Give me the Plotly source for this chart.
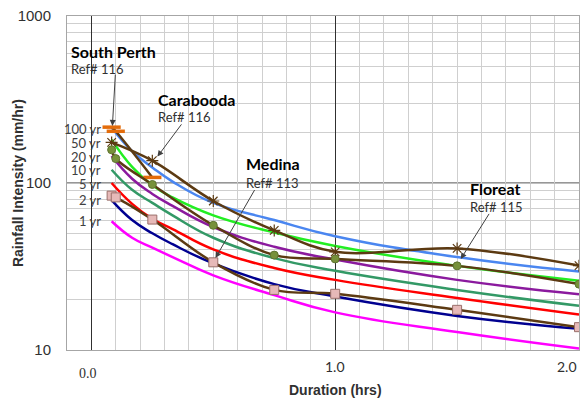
import math
import plotly.graph_objects as go

# ---------------- data ----------------
durations = [0.083, 0.167, 0.25, 0.333, 0.5, 0.75, 1.0, 1.5, 2.0]
ifd_1yr = [59, 47, 41, 36, 28, 21.3, 16.8, 12.8, 10.2]
ifd_2yr = [79, 60, 50, 43, 33, 24.8, 20.9, 16.0, 13.4]
ifd_5yr = [100, 75, 61, 53, 40, 31, 26.3, 20.5, 16.3]
ifd_10yr = [120, 91, 76, 64, 47, 35.5, 29.8, 22.9, 18.4]
ifd_20yr = [145, 106, 86, 73, 54.5, 41.5, 34.8, 26.3, 21.6]
ifd_50yr = [182, 125, 97, 82, 64, 50.5, 42, 31.9, 26]
ifd_100yr = [215, 155, 124, 102, 76, 60, 48, 36, 29.5]

ari_labels = ["1 yr", "2 yr", "5 yr", "10 yr", "20 yr", "50 yr", "100 yr"]
ari_colors = ["#FF00FF", "#000090", "#FF0000", "#339966", "#8B1A9E", "#22EE22", "#4A86F0"]
ari_label_y = [59.3, 78.7, 99, 119, 144, 174, 211]

south_perth_x = [0.083, 0.1, 0.25]
south_perth_y = [216, 204, 108]
carabooda_x = [0.083, 0.25, 0.5, 0.75, 1.0, 1.5, 2.0]
carabooda_y = [175, 136, 78, 52, 38.7, 40.6, 32]
floreat_x = [0.083, 0.1, 0.25, 0.5, 0.75, 1.0, 1.5, 2.0]
floreat_y = [158, 140, 98, 55.8, 37, 35.1, 31.9, 24.8]
medina_x = [0.083, 0.1, 0.25, 0.5, 0.75, 1.0, 1.5, 2.0]
medina_y = [84, 82, 60.4, 33.5, 22.9, 21.7, 17.4, 13.7]

site_names = ["South Perth", "Carabooda", "Medina", "Floreat"]
site_refs = ["Ref# 116", "Ref# 116", "Ref# 113", "Ref# 115"]

x_tick_labels = ["0.0", "1.0", "2.0"]

BROWN = "#5C3A12"
SANS = "Lato, 'Liberation Sans', Arial, sans-serif"
ARIAL = "'Liberation Sans', Arial, sans-serif"

fig = go.Figure()

ifd_series = [ifd_1yr, ifd_2yr, ifd_5yr, ifd_10yr, ifd_20yr, ifd_50yr, ifd_100yr]
for name, vals, col in zip(ari_labels, ifd_series, ari_colors):
    fig.add_trace(go.Scatter(x=durations, y=vals, mode="lines", name=name,
                             line=dict(color=col, width=2.5, shape="spline",
                                       smoothing=1.3)))

fig.add_trace(go.Scatter(x=south_perth_x, y=south_perth_y, mode="lines+markers",
                         name="South Perth",
                         line=dict(color=BROWN, width=2.5, shape="spline"),
                         marker=dict(symbol="line-ew", size=13,
                                     line=dict(color="#E46C0A", width=3.5))))
fig.add_trace(go.Scatter(x=carabooda_x, y=carabooda_y, mode="lines+markers",
                         name="Carabooda",
                         line=dict(color=BROWN, width=2.5, shape="spline"),
                         marker=dict(symbol="asterisk-open", size=10,
                                     line=dict(color="#A88A70", width=1.2))))
fig.add_trace(go.Scatter(x=floreat_x, y=floreat_y, mode="lines+markers",
                         name="Floreat",
                         line=dict(color=BROWN, width=2.5, shape="spline"),
                         marker=dict(symbol="circle", size=8, color="#77913A",
                                     line=dict(color="#5E7330", width=1))))
fig.add_trace(go.Scatter(x=medina_x, y=medina_y, mode="lines+markers",
                         name="Medina",
                         line=dict(color=BROWN, width=2.5, shape="spline"),
                         marker=dict(symbol="square", size=9, color="#E6B9B8",
                                     line=dict(color="#9A6F6A", width=1))))

ann = []
# ARI labels at left
for lab, yv in zip(ari_labels, ari_label_y):
    ann.append(dict(x=0.045, y=math.log10(yv), xref="x", yref="y", text=lab,
                    showarrow=False, xanchor="right", yanchor="middle",
                    borderpad=0,
                    font=dict(family=SANS, size=13, color="#404040")))

# site labels: (x, y_title, y_ref) positions
site_pos = [(-0.09, 2.789, 2.682), (0.267, 2.503, 2.396),
            (0.624, 2.116, 2.003), (1.544, 1.967, 1.854)]
for nm, rf, (px, yt, yr) in zip(site_names, site_refs, site_pos):
    ann.append(dict(x=px, y=yt, xref="x", yref="y", text="<b>%s</b>" % nm,
                    showarrow=False, xanchor="left", yanchor="middle",
                    font=dict(family=SANS, size=16, color="black")))
    ann.append(dict(x=px, y=yr, xref="x", yref="y", text=rf,
                    showarrow=False, xanchor="left", yanchor="middle",
                    font=dict(family=SANS, size=13, color="#303030")))

# arrows (tail -> head)
arrows = [((0.0986, 2.658), (0.0862, 2.342)),
          ((0.374, 2.360), (0.271, 2.158)),
          ((0.673, 1.967), (0.509, 1.551)),
          ((1.635, 1.824), (1.515, 1.545))]
for (tx, ty), (hx, hy) in arrows:
    ann.append(dict(x=hx, y=hy, ax=tx, ay=ty, xref="x", yref="y",
                    axref="x", ayref="y", text="", showarrow=True,
                    arrowhead=2, arrowsize=1.2, arrowwidth=1,
                    arrowcolor="#404040"))

# x tick labels
ann.append(dict(x=-0.015, y=-0.07, xref="x", yref="paper", text=x_tick_labels[0],
                showarrow=False, xanchor="center", yanchor="middle",
                font=dict(family="'Liberation Serif', 'Times New Roman', serif",
                          size=14, color="#303030")))
ann.append(dict(x=1.0, y=-0.05, xref="x", yref="paper", text=x_tick_labels[1],
                showarrow=False, xanchor="center", yanchor="middle",
                font=dict(family=SANS, size=14, color="#303030")))
ann.append(dict(x=2.0, y=-0.05, xref="x", yref="paper", text=x_tick_labels[2],
                showarrow=False, xanchor="right", yanchor="middle",
                font=dict(family=SANS, size=14, color="#303030")))
# axis titles
ann.append(dict(x=1.0, y=-0.12, xref="x", yref="paper", text="<b>Duration (hrs)</b>",
                showarrow=False, xanchor="center", yanchor="middle",
                font=dict(family=ARIAL, size=14, color="#303030")))
ann.append(dict(x=-0.0955, y=0.5, xref="paper", yref="paper",
                text="<b>Rainfall Intensity (mm/hr)</b>", textangle=-90,
                showarrow=False, xanchor="center", yanchor="middle",
                font=dict(family=ARIAL, size=14, color="#303030")))

fig.update_layout(
    width=587, height=403, autosize=False,
    margin=dict(l=67, r=7, t=14, b=53),
    paper_bgcolor="white", plot_bgcolor="white",
    showlegend=False,
    annotations=ann,
    shapes=[dict(type="line", xref="paper", yref="y", x0=0, x1=1,
                 y0=100, y1=100, line=dict(color="#303030", width=1.2),
                 layer="below")],
)

fig.update_xaxes(range=[-0.1, 2.0], tickmode="array", tickvals=[0, 1],
                 showticklabels=False, showgrid=True, gridcolor="#303030",
                 gridwidth=1.2, zeroline=False,
                 minor=dict(dtick=0.1, tick0=0, showgrid=True,
                            gridcolor="#CFCFCF", gridwidth=1),
                 showline=True, linecolor="#A6A6A6", mirror=True, ticks="")

fig.update_yaxes(type="log", range=[1, 3], tickmode="array",
                 tickvals=[10, 100, 1000], ticktext=["10", "100", "1000"],
                 showgrid=True, gridcolor="#BFBFBF",
                 minor=dict(dtick="D1", showgrid=True, gridcolor="#CFCFCF",
                            gridwidth=1),
                 ticks="outside", ticklen=12, tickcolor="rgba(0,0,0,0)",
                 tickfont=dict(family=ARIAL, size=15, color="#303030"),
                 showline=True, linecolor="#A6A6A6", mirror=True, zeroline=False)

fig.write_html("out.html", config={"displayModeBar": False},
               post_script="document.body.style.margin='0';document.body.style.overflow='hidden';")
